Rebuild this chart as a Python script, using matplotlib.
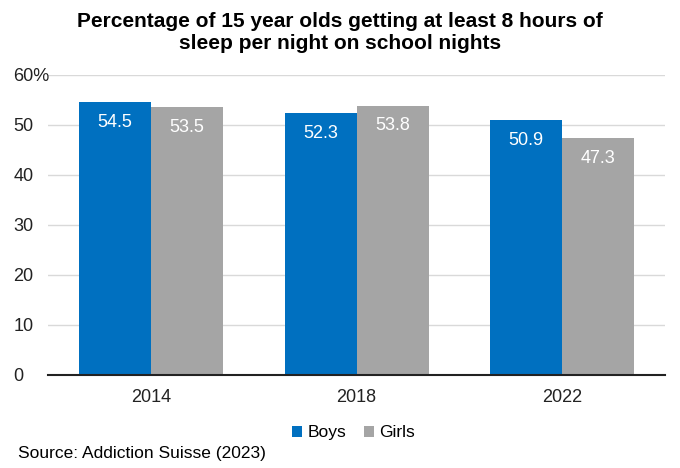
import matplotlib.pyplot as plt
import numpy as np

plt.rcParams['font.family'] = ['Liberation Sans', 'DejaVu Sans']

# Data
years = ['2014', '2018', '2022']
boys = [54.5, 52.3, 50.9]
girls = [53.5, 53.8, 47.3]

blue = '#0070C0'
grey = '#A5A5A5'

fig = plt.figure(figsize=(6.8, 4.68), dpi=100)
ax = fig.add_axes([0.071, 0.199, 0.907, 0.641])

x = np.arange(len(years))
w = 0.35
b1 = ax.bar(x - w / 2, boys, w, color=blue, label='Boys')
b2 = ax.bar(x + w / 2, girls, w, color=grey, label='Girls')

# value labels inside top of bars
for bars in (b1, b2):
    for rect in bars:
        h = rect.get_height()
        ax.text(rect.get_x() + rect.get_width() / 2, h - 2.3, f'{h:.1f}',
                ha='center', va='top', color='white', fontsize=13)

ax.set_xlim(-0.5, 2.5)
ax.set_ylim(0, 60)
ax.set_yticks(range(0, 61, 10))
ax.set_yticklabels(['0', '10', '20', '30', '40', '50', '60%'], ha='left')
ax.set_xticks(x)
ax.set_xticklabels(years)
ax.tick_params(axis='both', length=0, labelsize=13, colors='#222222')
ax.tick_params(axis='y', pad=25)
ax.tick_params(axis='x', pad=10)
ax.grid(axis='y', color='#D9D9D9', linewidth=1)
ax.set_axisbelow(True)
for s in ['top', 'right', 'left']:
    ax.spines[s].set_visible(False)
ax.spines['bottom'].set_color('#222222')
ax.spines['bottom'].set_linewidth(1.5)

fig.text(0.5, 0.975, 'Percentage of 15 year olds getting at least 8 hours of\nsleep per night on school nights',
         ha='center', va='top', fontsize=15, fontweight='bold', linespacing=1.2)

fig.legend(handles=[b1, b2], loc='center', bbox_to_anchor=(0.52, 0.075), ncol=2,
           frameon=False, fontsize=12.5, handlelength=0.6, handleheight=0.6,
           handletextpad=0.3, columnspacing=1.0)

fig.text(0.027, 0.032, 'Source: Addiction Suisse (2023)', ha='left', va='center', fontsize=12.5)

plt.savefig('out.png', format='png')
plt.close()
